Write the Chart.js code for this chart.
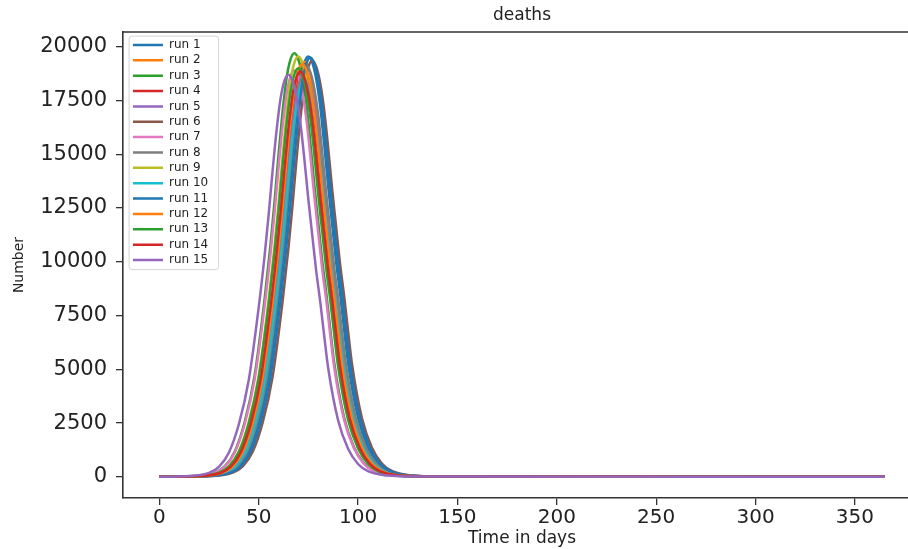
<!DOCTYPE html>
<html><head><meta charset="utf-8">
<script src="https://cdn.jsdelivr.net/npm/chart.js@4.4.1/dist/chart.umd.min.js"></script>
<style>
html,body{margin:0;padding:0;background:#fff;overflow:hidden;width:908px;height:549px}
#wrap{position:absolute;left:0;top:0;width:930px;height:549px}
</style>
</head><body><div id="wrap"><canvas id="c" width="930" height="549"></canvas></div>
<script>
const chartTitle = 'deaths';
const xLabel = 'Time in days';
const yLabel = 'Number';
const xTicks = [0, 50, 100, 150, 200, 250, 300, 350];
const yTicks = [0, 2500, 5000, 7500, 10000, 12500, 15000, 17500, 20000];
const runNames = ['run 1','run 2','run 3','run 4','run 5','run 6','run 7','run 8','run 9','run 10','run 11','run 12','run 13','run 14','run 15'];
const runColors = ['#1f77b4','#ff7f0e','#2ca02c','#d62728','#9467bd','#8c564b','#e377c2','#7f7f7f','#bcbd22','#17becf','#1f77b4','#ff7f0e','#2ca02c','#d62728','#9467bd'];

const run1Days = [0,25,35,40,45,50,55,60,63,65,67,69,71,73,75,77,79,81,83,85,87,89,91,93,95,100,105,110,115,125,135,365];
const run1Values = [0,39,196,489,1173,2542,4692,8211,10753,12708,14858,16813,18377,19257,19550,19257,18475,17204,15445,13490,11730,9971,8504,6843,5279,2737,1369,626,274,59,20,0];
const run2Days = [0,23,33,38,43,48,53,58,61,63,65,67,69,71,73,75,77,79,81,83,85,87,89,91,93,98,103,108,113,123,133,365];
const run2Values = [0,39,193,483,1158,2509,4632,8106,10615,12545,14668,16598,18142,19011,19300,19011,18239,16984,15247,13317,11580,9843,8396,6755,5211,2702,1351,618,270,58,19,0];
const run3Days = [0,18,28,33,38,43,48,53,56,58,60,62,64,66,68,70,72,74,76,78,80,82,84,86,88,93,98,103,108,118,128,365];
const run3Values = [0,39,197,493,1182,2561,4728,8274,10835,12805,14972,16942,18518,19405,19700,19405,18617,17336,15563,13593,11820,10047,8570,6895,5319,2758,1379,630,276,59,20,0];
const run4Days = [0,22,32,37,42,47,52,57,60,62,64,66,68,70,72,74,76,78,80,82,84,86,88,90,92,97,102,107,112,122,132,365];
const run4Values = [0,38,190,474,1137,2464,4548,7959,10423,12318,14402,16297,17813,18666,18950,18666,17908,16676,14971,13076,11370,9665,8243,6633,5117,2653,1327,606,265,57,19,0];
const run5Days = [0,23,33,38,43,48,53,58,61,63,65,67,69,71,73,75,77,79,81,83,85,87,89,91,93,98,103,108,113,123,133,365];
const run5Values = [0,38,188,470,1128,2444,4512,7896,10340,12220,14288,16168,17672,18518,18800,18518,17766,16544,14852,12972,11280,9588,8178,6580,5076,2632,1316,602,263,56,19,0];
const run6Days = [0,27,37,42,47,52,57,62,65,67,69,71,73,75,77,79,81,83,85,87,89,91,93,95,97,102,107,112,117,127,137,365];
const run6Values = [0,39,194,484,1161,2516,4644,8127,10643,12578,14706,16641,18189,19060,19350,19060,18286,17028,15287,13352,11610,9869,8417,6773,5225,2709,1355,619,271,58,19,0];
const run7Days = [0,18,28,33,38,43,48,53,56,58,60,62,64,66,68,70,72,74,76,78,80,82,84,86,88,93,98,103,108,118,128,365];
const run7Values = [0,38,189,473,1134,2457,4536,7938,10395,12285,14364,16254,17766,18617,18900,18617,17861,16632,14931,13041,11340,9639,8222,6615,5103,2646,1323,605,265,57,19,0];
const run8Days = [0,24,34,39,44,49,54,59,62,64,66,68,70,72,74,76,78,80,82,84,86,88,90,92,94,99,104,109,114,124,134,365];
const run8Values = [0,38,191,478,1146,2483,4584,8022,10505,12415,14516,16426,17954,18814,19100,18814,18050,16808,15089,13179,11460,9741,8309,6685,5157,2674,1337,611,267,57,19,0];
const run9Days = [0,20,30,35,40,45,50,55,58,60,62,64,66,68,70,72,74,76,78,80,82,84,86,88,90,95,100,105,110,120,130,365];
const run9Values = [0,39,196,489,1173,2542,4692,8211,10753,12708,14858,16813,18377,19257,19550,19257,18475,17204,15445,13490,11730,9971,8504,6843,5279,2737,1369,626,274,59,20,0];
const run10Days = [0,23,33,38,43,48,53,58,61,63,65,67,69,71,73,75,77,79,81,83,85,87,89,91,93,98,103,108,113,123,133,365];
const run10Values = [0,37,184,460,1104,2392,4416,7728,10120,11960,13984,15824,17296,18124,18400,18124,17388,16192,14536,12696,11040,9384,8004,6440,4968,2576,1288,589,258,55,18,0];
const run11Days = [0,26,36,41,46,51,56,61,64,66,68,70,72,74,76,78,80,82,84,86,88,90,92,94,96,101,106,111,116,126,136,365];
const run11Values = [0,39,195,488,1170,2535,4680,8190,10725,12675,14820,16770,18330,19208,19500,19208,18428,17160,15405,13455,11700,9945,8483,6825,5265,2730,1365,624,273,59,20,0];
const run12Days = [0,22,32,37,42,47,52,57,60,62,64,66,68,70,72,74,76,78,80,82,84,86,88,90,92,97,102,107,112,122,132,365];
const run12Values = [0,38,192,480,1152,2496,4608,8064,10560,12480,14592,16512,18048,18912,19200,18912,18144,16896,15168,13248,11520,9792,8352,6720,5184,2688,1344,614,269,58,19,0];
const run13Days = [0,20,30,35,40,45,50,55,58,60,62,64,66,68,70,72,74,76,78,80,82,84,86,88,90,95,100,105,110,120,130,365];
const run13Values = [0,38,190,475,1140,2470,4560,7980,10450,12350,14440,16340,17860,18715,19000,18715,17955,16720,15010,13110,11400,9690,8265,6650,5130,2660,1330,608,266,57,19,0];
const run14Days = [0,21,31,36,41,46,51,56,59,61,63,65,67,69,71,73,75,77,79,81,83,85,87,89,91,96,101,106,111,121,131,365];
const run14Values = [0,38,189,471,1131,2451,4524,7917,10368,12253,14326,16211,17719,18567,18850,18567,17813,16588,14892,13007,11310,9614,8200,6598,5090,2639,1320,603,264,57,19,0];
const run15Days = [0,15,25,30,35,40,45,50,53,55,57,59,61,63,65,67,69,71,73,75,77,79,81,83,85,90,95,100,105,115,125,365];
const run15Values = [0,37,187,468,1122,2431,4488,7854,10285,12155,14212,16082,17578,18420,18700,18420,17672,16456,14773,12903,11220,9537,8135,6545,5049,2618,1309,598,262,56,19,0];

const runDays = [run1Days,run2Days,run3Days,run4Days,run5Days,run6Days,run7Days,run8Days,run9Days,run10Days,run11Days,run12Days,run13Days,run14Days,run15Days];
const runValues = [run1Values,run2Values,run3Values,run4Values,run5Values,run6Values,run7Values,run8Values,run9Values,run10Values,run11Values,run12Values,run13Values,run14Values,run15Values];

const FONT = "'DejaVu Sans', 'Liberation Sans', sans-serif";

const datasets = runNames.map((name, i) => ({
  label: name,
  data: runDays[i].map((d, j) => ({x: d, y: runValues[i][j]})),
  borderColor: runColors[i],
  backgroundColor: runColors[i],
  borderWidth: 2.5,
  pointRadius: 0,
  fill: false,
  cubicInterpolationMode: 'monotone',
  order: runNames.length - i
}));

const framePlugin = {
  id: 'frame',
  afterLayout(chart) {
    const lg = chart.legend;
    if (lg) { lg.left = chart.chartArea.left + 6.6; lg.top = chart.chartArea.top + 3.6; }
  },
  afterDraw(chart) {
    const ctx = chart.ctx;
    const a = chart.chartArea;
    ctx.save();
    ctx.strokeStyle = '#333';
    ctx.lineWidth = 1.6;
    ctx.beginPath();
    ctx.moveTo(a.left, a.top);
    ctx.lineTo(a.right, a.top);
    ctx.lineTo(a.right, a.bottom);
    ctx.stroke();
    const lg = chart.legend;
    if (lg) {
      ctx.strokeStyle = '#d4d4d4';
      ctx.lineWidth = 1;
      ctx.beginPath();
      ctx.roundRect(lg.left - 0.5, lg.top + 0.5, 89.5, 233.5, 3);
      ctx.stroke();
    }
    ctx.restore();
  }
};

new Chart(document.getElementById('c'), {
  type: 'line',
  data: { datasets },
  plugins: [framePlugin],
  options: {
    responsive: false,
    animation: false,
    devicePixelRatio: 1,
    events: [],
    layout: { padding: { left: 0, right: 9, top: 0, bottom: 0 } },
    plugins: {
      title: {
        display: true, text: chartTitle, fullSize: false, color: '#222',
        font: { family: FONT, size: 17, weight: 'normal' },
        padding: { top: 5.6, bottom: 6 }
      },
      legend: {
        position: 'chartArea', align: 'start',
        labels: {
          boxWidth: 30, boxHeight: 0, padding: 3.36, color: '#222',
          font: { family: FONT, size: 12 },
          sort: (a, b) => a.datasetIndex - b.datasetIndex
        }
      },
      tooltip: { enabled: false }
    },
    scales: {
      x: {
        type: 'linear', min: -18.25, max: 383.25,
        afterBuildTicks: s => { s.ticks = xTicks.map(v => ({ value: v })); },
        afterFit: s => { s.height = 51; },
        ticks: { autoSkip: false, maxRotation: 0, padding: 1, color: '#222',
          font: { family: FONT, size: 20 }, callback: v => String(v) },
        grid: { display: true, drawOnChartArea: false, drawTicks: true, tickLength: 7, color: '#333', lineWidth: 1.3 },
        border: { display: true, color: '#333', width: 1.6 },
        title: { display: true, text: xLabel, color: '#222', font: { family: FONT, size: 17 }, padding: { top: 0, bottom: 0 } }
      },
      y: {
        type: 'linear', min: -985, max: 20685,
        afterBuildTicks: s => { s.ticks = yTicks.map(v => ({ value: v })); },
        afterFit: s => { s.width = 123; },
        ticks: { autoSkip: false, padding: 9, color: '#222',
          font: { family: FONT, size: 21 }, callback: v => String(v) },
        grid: { display: true, drawOnChartArea: false, drawTicks: true, tickLength: 7, color: '#333', lineWidth: 1.3 },
        border: { display: true, color: '#333', width: 1.6 },
        title: { display: true, text: yLabel, color: '#222', font: { family: FONT, size: 14 }, padding: { top: 11, bottom: 0 } }
      }
    }
  }
});
</script>
</body></html>
